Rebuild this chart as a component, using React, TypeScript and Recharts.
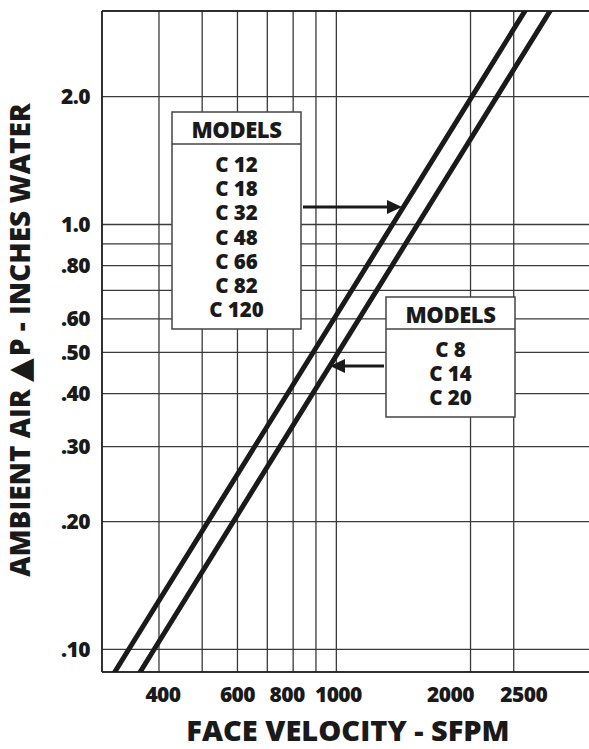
import { LineChart, Line, XAxis, YAxis, CartesianGrid, ReferenceLine } from 'recharts';

// pressure drop readings (inches water) used for both curves
const PRESSURE_DROP = [0.08, 0.1, 1.0, 2.0, 3.5];
// face velocity (SFPM) read at each pressure drop above
const VELOCITY_LARGE_MODELS = [300, 342, 1337, 2014, 2804]; // C 12 ... C 120
const VELOCITY_SMALL_MODELS = [342, 390, 1521, 2292, 3192]; // C 8, C 14, C 20

const MODELS_LARGE = ['C 12', 'C 18', 'C 32', 'C 48', 'C 66', 'C 82', 'C 120'];
const MODELS_SMALL = ['C 8', 'C 14', 'C 20'];

const X_TICKS = [400, 500, 600, 700, 800, 900, 1000, 2000, 2500];
const X_LABELED = [400, 600, 800, 1000, 2000, 2500];
const Y_TICKS = [0.1, 0.2, 0.3, 0.4, 0.5, 0.6, 0.7, 0.8, 0.9, 1.0, 2.0];
const Y_LABELS: Record<string, string> = {
  '0.10': '.10', '0.20': '.20', '0.30': '.30', '0.40': '.40', '0.50': '.50',
  '0.60': '.60', '0.80': '.80', '1.00': '1.0', '2.00': '2.0',
};

const X_DOMAIN = [298, 3904];
const Y_DOMAIN = [0.0885, 3.18];

const FONT = '"Open Sans", sans-serif';
const WEIGHT = 800;
const INK = '#1a1a1a';
const GRID = '#3a3a3a';

// the printed axis spaces some labels a bit off their grid lines
const X_LABEL_NUDGE: Record<number, number> = { 400: 4, 800: -6, 1000: 2, 2000: -20, 2500: 10 };

const largeData = PRESSURE_DROP.map((p, i) => ({ v: VELOCITY_LARGE_MODELS[i], p }));
const smallData = PRESSURE_DROP.map((p, i) => ({ v: VELOCITY_SMALL_MODELS[i], p }));

const tickStyle = { fontFamily: FONT, fontWeight: WEIGHT, fontSize: 21, fill: INK, letterSpacing: -0.6 };

function XTick(props: any) {
  const { x, y, payload } = props;
  const v = payload.value as number;
  if (!X_LABELED.includes(v)) return null;
  return (
    <text x={x + (X_LABEL_NUDGE[v] ?? 0)} y={y} dy="0.71em" textAnchor="middle" {...tickStyle}>
      {v}
    </text>
  );
}

function ModelBox({ x, y, w, h, models }: { x: number; y: number; w: number; h: number; models: string[] }) {
  const cx = x + w / 2;
  return (
    <g>
      <rect x={x} y={y} width={w} height={h} fill="#fff" stroke="#444" strokeWidth={1.5} />
      <line x1={x} x2={x + w} y1={y + 32} y2={y + 32} stroke="#444" strokeWidth={1.5} />
      <text x={cx} y={y + 26} textAnchor="middle" fontFamily={FONT} fontWeight={WEIGHT} fontSize={22} letterSpacing={-0.4} fill={INK}>
        MODELS
      </text>
      {models.map((m, i) => (
        <text key={m} x={cx} y={y + 60 + i * 24.2} textAnchor="middle" fontFamily={FONT} fontWeight={WEIGHT} fontSize={20.5} fill={INK}>
          {m}
        </text>
      ))}
    </g>
  );
}

export default function App() {
  return (
    <div style={{ position: 'absolute', left: 0, top: 0, width: 589, height: 749, overflow: 'hidden', background: '#fff' }}>
      <LineChart width={600} height={749} margin={{ top: 11, right: 0, bottom: 0, left: 0 }}>
        <CartesianGrid stroke={GRID} strokeWidth={1.3} />
        <XAxis
          type="number"
          dataKey="v"
          scale="log"
          domain={X_DOMAIN}
          allowDataOverflow
          ticks={X_TICKS}
          interval={0}
          tickLine={false}
          tickMargin={9}
          height={77}
          axisLine={{ stroke: INK, strokeWidth: 1.5 }}
          tick={<XTick />}
        />
        <YAxis
          type="number"
          dataKey="p"
          scale="log"
          domain={Y_DOMAIN}
          allowDataOverflow
          ticks={Y_TICKS}
          interval={0}
          width={102}
          tickLine={false}
          tickMargin={6}
          axisLine={{ stroke: INK, strokeWidth: 1.5 }}
          tick={tickStyle}
          tickFormatter={(v: number) => Y_LABELS[v.toFixed(2)] ?? ''}
        />
        <ReferenceLine y={Y_DOMAIN[1]} stroke={INK} strokeWidth={1.5} />
        <Line data={largeData} dataKey="p" stroke={INK} strokeWidth={5} dot={false} isAnimationActive={false} />
        <Line data={smallData} dataKey="p" stroke={INK} strokeWidth={5} dot={false} isAnimationActive={false} />
      </LineChart>
      <svg width={589} height={749} style={{ position: 'absolute', left: 0, top: 0, pointerEvents: 'none' }}>
        <ModelBox x={172} y={112} w={129} h={217} models={MODELS_LARGE} />
        <ModelBox x={386} y={297} w={129} h={120} models={MODELS_SMALL} />
        <line x1={303} x2={389} y1={207} y2={207} stroke={INK} strokeWidth={3} />
        <polygon points="387,200 402,207 387,214" fill={INK} />
        <line x1={384} x2={343} y1={366} y2={366} stroke={INK} strokeWidth={3} />
        <polygon points="345,359 330,366 345,373" fill={INK} />
        <text x={348} y={741} textAnchor="middle" fontFamily={FONT} fontWeight={WEIGHT} fontSize={29} fill={INK}>
          FACE VELOCITY - SFPM
        </text>
        <text
          transform="translate(30,340) rotate(-90)"
          textAnchor="middle"
          fontFamily={FONT}
          fontWeight={WEIGHT}
          fontSize={28}
          fill={INK}
        >
          AMBIENT AIR <tspan fontFamily="DejaVu Sans" fontSize={31}>▲</tspan>
          <tspan dx={2}>P - INCHES WATER</tspan>
        </text>
      </svg>
    </div>
  );
}
